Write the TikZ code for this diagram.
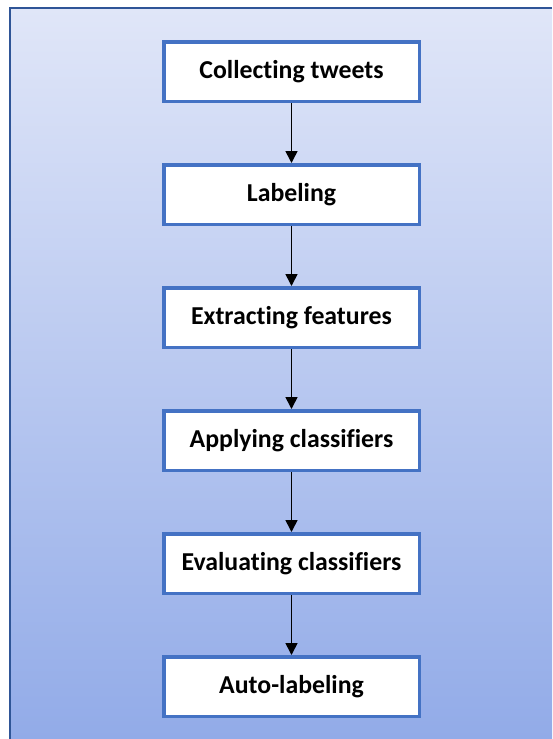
\documentclass[tikz,border=0pt]{standalone}
\usepackage{fontspec}
\setmainfont{Carlito}[Ligatures=NoCommon]
\usetikzlibrary{arrows.meta, positioning}
\definecolor{boxblue}{RGB}{68,114,196}
\definecolor{framblue}{RGB}{47,85,151}
\definecolor{bgtop}{RGB}{224,230,248}
\definecolor{bgbottom}{RGB}{146,171,232}

\begin{document}
\begin{tikzpicture}[
    x=1pt, y=1pt,
    node distance=60pt,
    stepbox/.style={rectangle, draw=boxblue, line width=3.5pt, fill=white, minimum width=255.5pt, minimum height=59.5pt, font=\fontsize{25.8}{30}\selectfont\bfseries},
    flow/.style={-{Triangle[width=12pt,length=12pt]}, line width=1.6pt, black}
]
\useasboundingbox (0,0) rectangle (552,-739);
\shade[top color=bgtop, bottom color=bgbottom] (10,-8) rectangle (552,-739);
\draw[framblue, line width=2pt] (10,-739) -- (10,-8) -- (552,-8);

\node[stepbox] (collect) at (291.5,-71.5) {Collecting tweets};
\node[stepbox, below=of collect] (label) {Labeling};
\node[stepbox, below=of label] (extract) {Extracting features};
\node[stepbox, below=of extract] (apply) {Applying classifiers};
\node[stepbox, below=of apply] (evaluate) {Evaluating classifiers};
\node[stepbox, below=of evaluate] (auto) {Auto-labeling};

\draw[flow] (collect) -- (label);
\draw[flow] (label) -- (extract);
\draw[flow] (extract) -- (apply);
\draw[flow] (apply) -- (evaluate);
\draw[flow] (evaluate) -- (auto);

\end{tikzpicture}
\end{document}
